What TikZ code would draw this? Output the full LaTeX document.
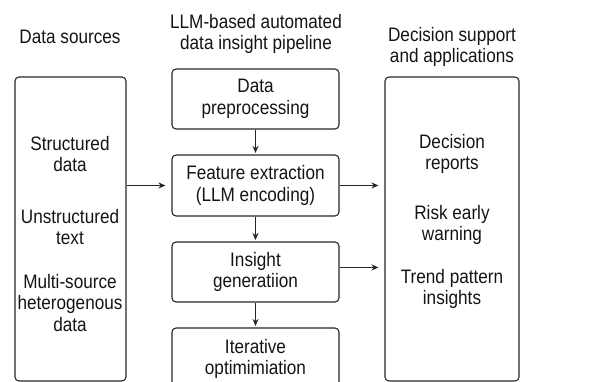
\documentclass[tikz,border=0pt]{standalone}
\usepackage{fontspec}
\setmainfont{Liberation Sans}[FakeStretch=0.88]
\usetikzlibrary{arrows.meta}
\begin{document}
\begin{tikzpicture}[x=1pt,y=-1pt,
  box/.style={draw=black!85, line width=1.1pt, rounded corners=4pt, inner sep=0pt},
  lbl/.style={font=\fontsize{19.5}{21.5}\selectfont, align=center, text=black!92, inner sep=0pt},
  arr/.style={-{Stealth[length=7pt,width=6pt]}, line width=1.1pt, draw=black!85}]
\useasboundingbox (0,0) rectangle (603,382);
\clip (0,0) rectangle (603,382);
% titles
\node[lbl] (t1) at (70,37) {Data sources};
\node[lbl] (t2) at (256,34) {LLM-based automated\\data insight pipeline};
\node[lbl] (t3) at (452,47) {Decision support\\and applications};
% outer boxes
\node[box, minimum width=111pt, minimum height=304pt] (src) at (70.5,229) {};
\node[box, minimum width=134pt, minimum height=304pt] (dec) at (452,229) {};
% source texts
\node[lbl] (s1) at (70,154) {Structured\\data};
\node[lbl] (s2) at (70,227) {Unstructured\\text};
\node[lbl] (s3) at (70,303) {Multi-source\\heterogenous\\data};
% decision texts
\node[lbl] (d1) at (452,154) {Decision\\reports};
\node[lbl] (d2) at (452,225) {Risk early\\warning};
\node[lbl] (d3) at (452,289) {Trend pattern\\insights};
% pipeline
\node[box, minimum width=167pt, minimum height=60pt] (prep) at (255.5,99) {};
\node[lbl] (prept) at (prep.center) {Data\\preprocessing};
\node[box, minimum width=167pt, minimum height=61pt] (feat) at (255.5,185.5) {};
\node[lbl] (featt) at (feat.center) {Feature extraction\\(LLM encoding)};
\node[box, minimum width=167pt, minimum height=60pt] (ins) at (255.5,272) {};
\node[lbl] (inst) at (ins.center) {Insight\\generatiion};
\node[box, minimum width=167pt, minimum height=60pt] (iter) at (255.5,358) {};
\node[lbl] (itert) at ([yshift=-1pt]iter.center) {Iterative\\optimimiation};
\coordinate (insout) at ([yshift=4.5pt]ins.east);
% arrows
\draw[arr, shorten >=1.5pt] (prep.south) -- (feat.north);
\draw[arr, shorten >=1.5pt] (feat.south) -- (ins.north);
\draw[arr, shorten >=1.5pt] (ins.south) -- (iter.north);
\draw[arr, shorten >=6pt] (src.east |- feat.west) -- (feat.west);
\draw[arr, shorten >=6pt] (feat.east) -- (dec.west |- feat.east);
\draw[arr, shorten >=6pt] (insout) -- (dec.west |- insout);
\end{tikzpicture}
\end{document}
